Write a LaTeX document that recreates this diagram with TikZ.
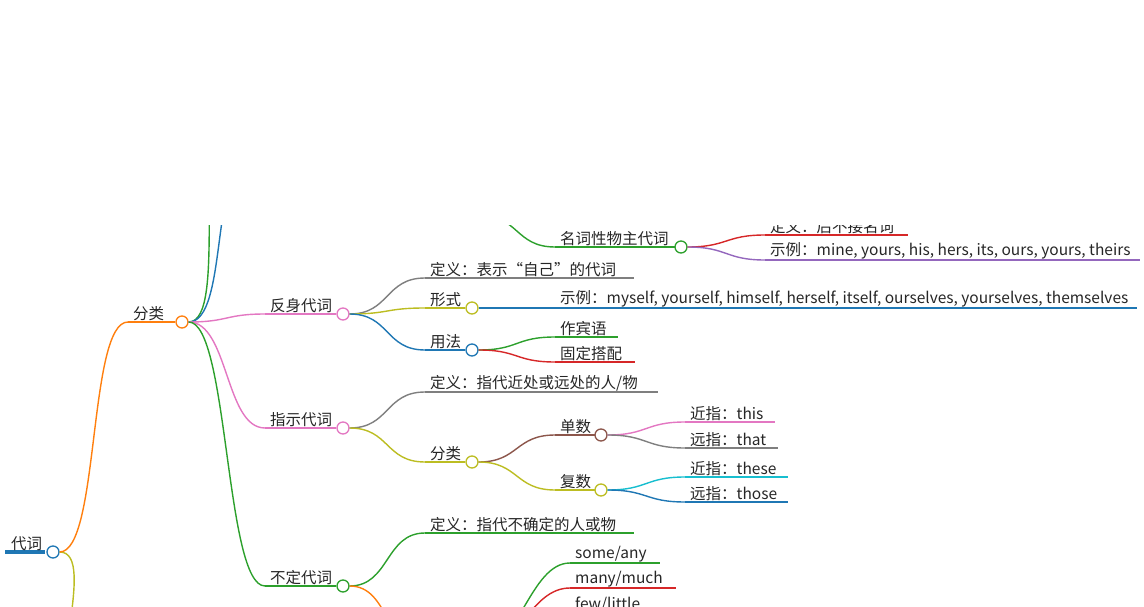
\documentclass[tikz,border=0pt]{standalone}
\usepackage{fontspec}
\newfontfamily\cjk{Noto Sans CJK SC}
\tikzset{
  topic text/.style={font=\cjk\fontsize{15.5}{17}\selectfont, text=black!85, inner sep=1pt, anchor=south west},
  knob/.style={circle, fill=white, line width=1.3pt, minimum size=12pt, inner sep=0pt},
  link/.style={line width=1.4pt},
}
% name, x start, x end, y, colour, text
\newcommand{\branch}[6]{%
  \coordinate (#1-in) at (#2,#4);
  \coordinate (#1-end) at (#3,#4);
  \draw[#5, link] (#1-in) -- (#1-end);
  \node[topic text] (#1) at (#2+4,#4) {#6};}
% name, x, y, colour
\newcommand{\knot}[4]{\node[knob, draw=#4] (#1-out) at (#2,#3) {};}
% parent, child, colour
\newcommand{\joint}[3]{\draw[#3, link] (#1-out.east) .. controls +(40,0) and +(-40,0) .. (#2-in);}
\definecolor{mmblue}{HTML}{1F77B4}
\definecolor{mmorange}{HTML}{FF7F0E}
\definecolor{mmgreen}{HTML}{2CA02C}
\definecolor{mmred}{HTML}{D62728}
\definecolor{mmpurple}{HTML}{9467BD}
\definecolor{mmbrown}{HTML}{8C564B}
\definecolor{mmpink}{HTML}{E377C2}
\definecolor{mmgray}{HTML}{7F7F7F}
\definecolor{mmolive}{HTML}{BCBD22}
\definecolor{mmcyan}{HTML}{17BECF}
\begin{document}
\begin{tikzpicture}[x=1pt, y=-1pt]
\useasboundingbox (0,0) rectangle (1144,607);
\clip (0,225) rectangle (1144,607);
% root
\draw[mmblue, line width=4pt] (5,552) -- (45,552);
\node[topic text] (root) at (10,552) {代词};
\knot{root}{53}{552}{mmblue}
\coordinate (below-in) at (80,700);
\joint{root}{below}{mmolive}
% classes
\branch{kind}{128}{175}{322}{mmorange}{分类}
\knot{kind}{182}{322}{mmorange}
\joint{root}{kind}{mmorange}
\coordinate (up1-in) at (230,120);
\coordinate (up2-in) at (250,160);
\joint{kind}{up1}{mmgreen}
\joint{kind}{up2}{mmblue}
% possessive (upper, clipped)
\knot{poss}{472}{215}{mmgreen}
\branch{noun}{555}{675}{247}{mmgreen}{名词性物主代词}
\knot{noun}{681}{247}{mmgreen}
\joint{poss}{noun}{mmgreen}
\branch{nodef}{765}{908}{235}{mmred}{定义：后不接名词}
\branch{noex}{765}{1140}{260}{mmpurple}{示例：mine, yours, his, hers, its, ours, yours, theirs}
\joint{noun}{nodef}{mmred}
\joint{noun}{noex}{mmpurple}
% reflexive
\branch{refl}{265}{336}{314}{mmpink}{反身代词}
\knot{refl}{343}{314}{mmpink}
\joint{kind}{refl}{mmpink}
\branch{rdef}{425}{634}{278}{mmgray}{定义：表示“自己”的代词}
\branch{rform}{425}{465}{308}{mmolive}{形式}
\knot{rform}{472}{308}{mmolive}
\branch{ruse}{425}{465}{350}{mmblue}{用法}
\knot{ruse}{472}{350}{mmblue}
\joint{refl}{rdef}{mmgray}
\joint{refl}{rform}{mmolive}
\joint{refl}{ruse}{mmblue}
\branch{rex}{555}{1137}{308}{mmblue}{示例：myself, yourself, himself, herself, itself, ourselves, yourselves, themselves}
\draw[mmblue, link] (rform-out.east) -- (rex-in);
\branch{robj}{555}{618}{337}{mmgreen}{作宾语}
\branch{rfix}{555}{635}{362}{mmred}{固定搭配}
\joint{ruse}{robj}{mmgreen}
\joint{ruse}{rfix}{mmred}
% demonstrative
\branch{demo}{265}{336}{428}{mmpink}{指示代词}
\knot{demo}{343}{428}{mmpink}
\joint{kind}{demo}{mmpink}
\branch{ddef}{425}{658}{392}{mmgray}{定义：指代近处或远处的人/物}
\branch{dkind}{425}{465}{462}{mmolive}{分类}
\knot{dkind}{472}{462}{mmolive}
\joint{demo}{ddef}{mmgray}
\joint{demo}{dkind}{mmolive}
\branch{sing}{555}{595}{435}{mmbrown}{单数}
\knot{sing}{601}{435}{mmbrown}
\branch{plur}{555}{595}{490}{mmolive}{复数}
\knot{plur}{601}{490}{mmolive}
\joint{dkind}{sing}{mmbrown}
\joint{dkind}{plur}{mmolive}
\branch{this}{685}{775}{422}{mmpink}{近指：this}
\branch{that}{685}{778}{448}{mmgray}{远指：that}
\branch{these}{685}{788}{477}{mmcyan}{近指：these}
\branch{those}{685}{788}{502}{mmblue}{远指：those}
\joint{sing}{this}{mmpink}
\joint{sing}{that}{mmgray}
\joint{plur}{these}{mmcyan}
\joint{plur}{those}{mmblue}
% indefinite
\branch{indef}{265}{336}{586}{mmgreen}{不定代词}
\knot{indef}{343}{586}{mmgreen}
\joint{kind}{indef}{mmgreen}
\branch{idef}{425}{634}{533}{mmgreen}{定义：指代不确定的人或物}
\joint{indef}{idef}{mmgreen}
\coordinate (icom-in) at (425,650);
\joint{indef}{icom}{mmorange}
\knot{icom}{472}{650}{mmorange}
\branch{some}{570}{660}{563}{mmgreen}{some/any}
\branch{many}{570}{676}{588}{mmred}{many/much}
\branch{few}{570}{660}{613}{mmpurple}{few/little}
\joint{icom}{some}{mmgreen}
\joint{icom}{many}{mmred}
\joint{icom}{few}{mmpurple}
\end{tikzpicture}
\end{document}
